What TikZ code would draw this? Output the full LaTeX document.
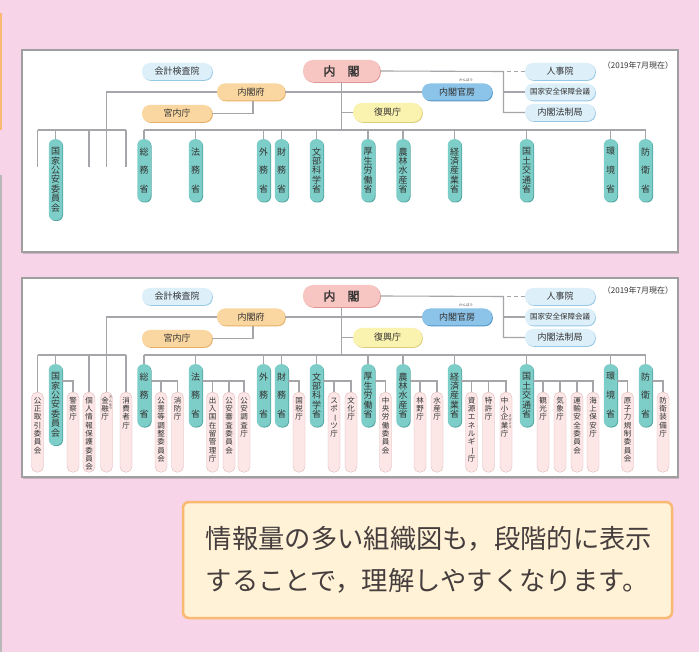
\documentclass[tikz,border=0pt]{standalone}
\usepackage{fontspec}
\setmainfont[AutoFakeBold=1.5]{Noto Sans CJK JP}
\usepackage{graphicx}
\usetikzlibrary{shadows}

\definecolor{bgpink}{RGB}{248,212,232}
\definecolor{linegray}{RGB}{165,165,170}
\definecolor{skyfill}{RGB}{221,240,250}
\definecolor{skyedge}{RGB}{150,200,230}
\definecolor{cabfill}{RGB}{247,197,194}
\definecolor{cabedge}{RGB}{225,150,150}
\definecolor{orgfill}{RGB}{250,215,160}
\definecolor{orgedge}{RGB}{230,175,100}
\definecolor{kanbofill}{RGB}{140,195,232}
\definecolor{kanboedge}{RGB}{80,150,200}
\definecolor{fukkofill}{RGB}{250,242,175}
\definecolor{fukkoedge}{RGB}{220,205,120}
\definecolor{tealfill}{RGB}{125,206,200}
\definecolor{tealedge}{RGB}{80,165,160}
\definecolor{leaffill}{RGB}{252,230,230}
\definecolor{leafedge}{RGB}{225,185,185}
\definecolor{notefill}{RGB}{255,242,214}
\definecolor{noteedge}{RGB}{249,185,115}
\definecolor{notetext}{RGB}{70,62,62}

% vertical text, one character per line
\ExplSyntaxOn
\NewDocumentCommand \tatechar { m }
  { \str_if_eq:nnTF {#1} {ー} { \rotatebox[origin=c]{-90}{ー} } {#1} }
\NewDocumentCommand \tate { O{9pt} m }
  {
    \vtop
      {
        \baselineskip = #1 \relax
        \lineskiplimit = -\maxdimen
        \exp_args:No \tl_map_inline:nn {#2}
          { \hbox_to_wd:nn { 1em } { \hss \tatechar {##1} \hss } }
      }
  }
\ExplSyntaxOff

\tikzset{
  edge shadow/.style={drop shadow={fill=#1, opacity=1, shadow xshift=.8pt, shadow yshift=-.8pt}},
  link/.style={draw=linegray, line width=1.1pt},
  panel/.style={fill=white, draw=gray!75, line width=1.3pt,
    drop shadow={fill=black!60, opacity=.3, shadow xshift=1pt, shadow yshift=-2pt}},
  pill/.style={rounded corners=8pt, minimum width=70pt, minimum height=17pt, inner sep=0pt,
    text=black!80, font=\fontsize{9}{9}\selectfont},
  sky/.style={pill, fill=skyfill, edge shadow=skyedge},
  orgbox/.style={pill, fill=orgfill, edge shadow=orgedge},
  mini/.style={rounded corners=6pt, fill=tealfill, edge shadow=tealedge, minimum width=13.5pt,
    minimum height=62.5pt, inner sep=0pt, anchor=north, text=black!80,
    font=\fontsize{9}{9}\selectfont},
  leaf/.style={rounded corners=5.5pt, fill=leaffill, draw=leafedge, line width=.4pt,
    minimum width=12pt, inner sep=0pt, anchor=north, text height=11pt, text depth=69pt,
    text=black!80, font=\fontsize{7.5}{7.5}\selectfont},
  ruby/.style={inner sep=0pt, text=black!70, font=\fontsize{3.5}{3.5}\selectfont}
}

\begin{document}
\begin{tikzpicture}[x=1pt, y=-1pt]
  % page
  \useasboundingbox (0,0) rectangle (699,652);
  \fill[bgpink] (0,0) rectangle (699,652);
  \draw[noteedge, line width=2pt] (1,13) -- (1,130);
  \draw[gray!55, line width=2pt] (1,175) -- (1,652);

  % the two charts
  \draw[panel] (22,50) rectangle (678,252);
  \draw[panel] (22,278) rectangle (678,477);

  \foreach \p/\dy in {t/0, b/225} {
    \begin{scope}[shift={(0,\dy)}, name prefix=\p-]
      % cabinet and offices
      \node[sky] (kaikei) at (177,71.5) {会計検査院};
      \node[pill, fill=cabfill, edge shadow=cabedge, minimum width=77pt, minimum height=22pt,
        rounded corners=10pt, font=\fontsize{12}{12}\selectfont\bfseries] (naikaku) at (341.5,71) {内　閣};
      \node[orgbox, minimum width=68pt] (fu) at (251,92) {内閣府};
      \node[orgbox] (kunai) at (177,113.5) {宮内庁};
      \node[pill, fill=kanbofill, edge shadow=kanboedge] (kanbo) at (457,92) {内閣官房};
      \node[ruby] (kanboruby) at (466,80.5) {かんぼう};
      \node[pill, fill=fukkofill, edge shadow=fukkoedge, minimum width=69pt, minimum height=19pt,
        rounded corners=9pt] (fukko) at (387.5,112.5) {復興庁};
      \node[sky] (jinji) at (560,71.5) {人事院};
      \node[sky, font=\fontsize{7.5}{7.5}\selectfont] (nsc) at (560,92) {国家安全保障会議};
      \node[sky] (hosei) at (560,112.5) {内閣法制局};
      \node[inner sep=0pt, text=black!80, font=\fontsize{8}{8}\selectfont] (asof) at (638,65)
        {（2019年7月現在）};

      % ministries
      \node[mini, minimum height=81pt] (kokka) at (55.5,139) {\tate[9.4pt]{国家公安委員会}};
      \foreach \name/\x/\txt/\gap in {somu/144/総務省/18.8, homu/195.5/法務省/18.8,
          gaimu/263.5/外務省/18.8, zaimu/281.5/財務省/18.8, monka/316.5/文部科学省/9.4,
          koro/368/厚生労働省/9.4, nosui/403/農林水産省/9.4, keisan/454.5/経済産業省/9.4,
          kokudo/526.5/国土交通省/9.4, kankyo/610.5/環境省/18.8, boei/645.5/防衛省/18.8}
        \node[mini] (\name) at (\x,139) {\tate[\gap pt]{\txt}};

      % connectors
      \coordinate (hub) at (503.5,71.5);
      \coordinate (trunk) at (0,130);
      \draw[link] (naikaku.east) -- (hub) |- (hosei.west);
      \draw[link] (hub |- nsc) -- (nsc.west);
      \draw[link, dash pattern=on 4pt off 3pt] ([xshift=3pt]hub) -- (jinji.west);
      \draw[link] (fu.east) -- (kanbo.west);
      \draw[link] (naikaku.south) -- (naikaku.south |- trunk);
      \draw[link] (naikaku.south |- fukko) -- (fukko.west);
      \draw[link] ([xshift=2pt]fu.south) |- (kunai.east);
      \draw[link] (somu.north |- trunk) -- (boei.north |- trunk);
      \foreach \m in {kokka,somu,homu,gaimu,zaimu,monka,koro,nosui,keisan,kokudo,kankyo,boei}
        \draw[link] (\m.north) -- (\m.north |- trunk);
      \coordinate (lf1) at (37.5,167);
      \coordinate (lf2) at (89,167);
      \coordinate (lf3) at (106.5,167);
      \coordinate (lf4) at (126,167);
      \draw[link] (lf1 |- trunk) -- (lf4 |- trunk);
      \foreach \c in {lf1,lf2,lf4}
        \draw[link] (\c |- trunk) -- (\c);
      \draw[link] (fu.west) -| (lf3);
    \end{scope}
  }

  % agencies, second chart only
  \begin{scope}[shift={(0,225)}, name prefix=b-]
    \foreach \name/\x/\txt in {kosei/37.5/公正取引委員会, keisatsu/73/警察庁,
        kojin/89/個人情報保護委員会, shohi/126/消費者庁,
        kogai/161/公害等調整委員会, shobo/177.5/消防庁, nyukan/212.5/出入国在留管理庁,
        shinsa/229/公安審査委員会, chosa/244/公安調査庁, kokuzei/299/国税庁,
        sports/334/スポーツ庁, bunka/351/文化庁, churo/385.5/中央労働委員会,
        rinya/420/林野庁, suisan/437/水産庁, shigen/471.5/資源エネルギー庁,
        tokkyo/488.5/特許庁, kanko/543/観光庁, kisho/560/気象庁,
        unyu/577/運輸安全委員会, kaiho/593/海上保安庁, genshi/627.5/原子力規制委員会,
        sobi/663/防衛装備庁}
      \node[leaf] (\name) at (\x,167) {\tate[8.3pt]{\txt}};
    \node[leaf] (kinyu) at (106.5,167) {\tate[8.3pt]{金融庁}\kern3pt};
    \node[leaf] (chusho) at (506,167) {\tate[8.3pt]{中小企業庁}\kern3pt};
    \node[ruby] (kinyuruby) at (110.7,178) {\tate[3.6pt]{きんゆう}};
    \node[ruby] (chushoruby) at (510.2,196.5) {\tate[3.6pt]{きぎょう}};
    \foreach \up/\name in {kokka/keisatsu, somu/kogai, somu/shobo, homu/nyukan, homu/shinsa,
        homu/chosa, zaimu/kokuzei, monka/sports, monka/bunka, koro/churo, nosui/rinya,
        nosui/suisan, keisan/shigen, keisan/tokkyo, keisan/chusho, kokudo/kanko,
        kokudo/kisho, kokudo/unyu, kokudo/kaiho, kankyo/genshi, boei/sobi}
      \draw[link] ([yshift=-17pt]\up.north east) -| (\name.north);
  \end{scope}

  % note
  \node[fill=notefill, draw=noteedge, line width=2.5pt, rounded corners=6pt,
    minimum width=489pt, minimum height=116pt] (notebox) at (427.5,560) {};
  \node[anchor=west, align=left, inner sep=0pt, text=notetext,
    font=\fontsize{26.3}{42}\selectfont] (notetext) at ([xshift=24pt]notebox.west)
    {情報量の多い組織図も，段階的に表示\\することで，理解しやすくなります。};
\end{tikzpicture}
\end{document}
